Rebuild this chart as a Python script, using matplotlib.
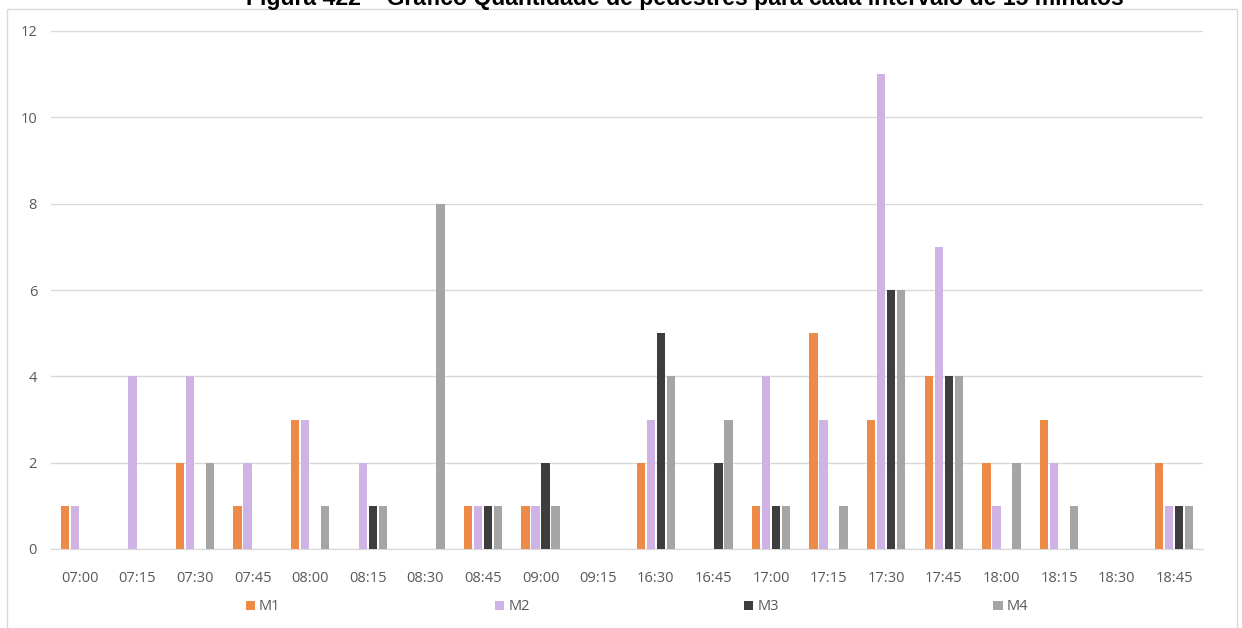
import numpy as np
import matplotlib
matplotlib.use("Agg")
import matplotlib.pyplot as plt
from matplotlib.patches import Rectangle

# ----------------------------- data -----------------------------
horarios = ["07:00", "07:15", "07:30", "07:45", "08:00", "08:15", "08:30",
            "08:45", "09:00", "09:15", "16:30", "16:45", "17:00", "17:15",
            "17:30", "17:45", "18:00", "18:15", "18:30", "18:45"]

m1 = [1, 0, 2, 1, 3, 0, 0, 1, 1, 0, 2, 0, 1, 5, 3, 4, 2, 3, 0, 2]
m2 = [1, 4, 4, 2, 3, 2, 0, 1, 1, 0, 3, 0, 4, 3, 11, 7, 1, 2, 0, 1]
m3 = [0, 0, 0, 0, 0, 1, 0, 1, 2, 0, 5, 2, 1, 0, 6, 4, 0, 0, 0, 1]
m4 = [0, 0, 2, 0, 1, 1, 8, 1, 1, 0, 4, 3, 1, 1, 6, 4, 2, 1, 0, 1]

series_names = ["M1", "M2", "M3", "M4"]
series_vals = [m1, m2, m3, m4]
cores = ["#EE8A47", "#CFB3E5", "#3D3D3D", "#A5A5A5"]

titulo = "Figura 422 – Gráfico Quantidade de pedestres para cada intervalo de 15 minutos"

# ----------------------------- figure -----------------------------
fig = plt.figure(figsize=(12.42, 6.28), dpi=100)
W, H = 1242, 628

# chart frame (Excel-like border)
fig.patches.append(Rectangle((7 / W, -0.05), (1237 - 7) / W, 1 - 9 / H + 0.05,
                             transform=fig.transFigure, fill=False,
                             edgecolor="#D9D9D9", linewidth=1.0))

# title, cut off at the top of the image (as in the source page)
fig.text(685 / W, 1 - 5 / H, titulo, ha="center", va="baseline",
         fontsize=16.6, fontweight="bold", family="Liberation Sans")

ax = fig.add_axes([51 / W, 1 - 549 / H, (1203 - 51) / W, (549 - 31) / H])

x = np.arange(len(horarios))
bw = 0.148
pitch = 0.174
for i, (nome, vals, cor) in enumerate(zip(series_names, series_vals, cores)):
    ax.bar(x + (i - 1.5) * pitch, vals, width=bw, color=cor, label=nome, zorder=3)

ax.set_xlim(-0.5, len(horarios) - 0.5)
ax.set_ylim(0, 12)
ax.set_yticks(range(0, 13, 2))
ax.set_xticks(x)
ax.set_xticklabels(horarios)

ax.grid(axis="y", color="#D9D9D9", linewidth=1.0, zorder=0)
for s in ["top", "right", "left"]:
    ax.spines[s].set_visible(False)
ax.spines["bottom"].set_color("#D9D9D9")
ax.tick_params(axis="both", length=0, labelsize=10.5, labelcolor="#595959")
ax.tick_params(axis="x", pad=16)
ax.tick_params(axis="y", pad=10)
for lbl in ax.get_xticklabels() + ax.get_yticklabels():
    lbl.set_family("Open Sans")

leg = fig.legend(loc="center", bbox_to_anchor=(0.5 + 16 / W, 1 - 607 / H), ncol=4,
                 frameon=False, handlelength=0.62, handleheight=0.62,
                 handletextpad=0.3, columnspacing=14.7,
                 prop={"family": "Open Sans", "size": 10.5})
for t in leg.get_texts():
    t.set_color("#595959")

fig.savefig("out.png", dpi=100)
